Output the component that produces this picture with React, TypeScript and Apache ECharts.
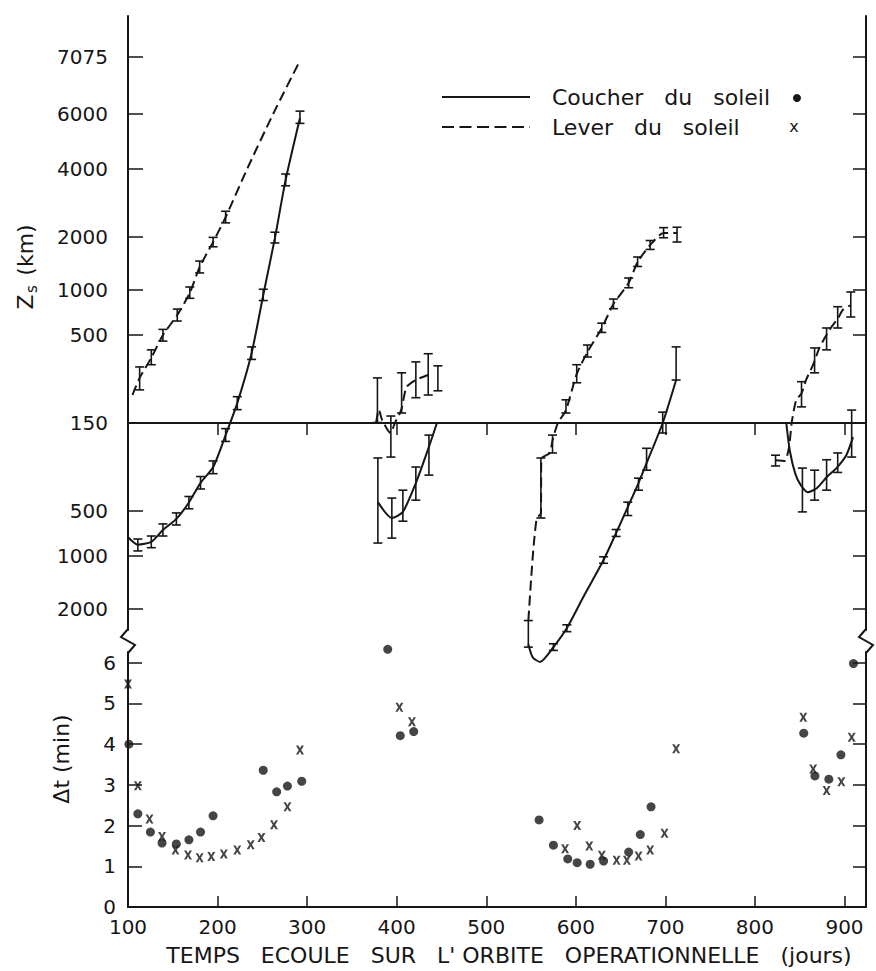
import React, { useEffect, useRef } from "react";
import * as echarts from "echarts";

// ---- axis definitions ----
const xLabelDays = [100, 200, 300, 400, 500, 600, 700, 800, 900];
const xTickDays = [200, 300, 400, 500, 600, 700, 800, 900];
// Zs tick labels; negative sign = mirrored (lower) half of the Zs scale
const zTickLabels = [7075, 6000, 4000, 2000, 1000, 500, 150, -500, -1000, -2000];
const dtLabelValues = [0, 1, 2, 3, 4, 5, 6];
const dtTickValues = [1, 2, 3, 4, 5, 6];

// non-uniform Zs scale of the figure (knot value -> relative position)
const Z_KNOTS = [150, 500, 1000, 2000, 4000, 6000, 7075];
const U_KNOTS = [0, 88, 133, 186, 254, 309, 366];

// ---- data: [day, Zs km] (negative = lower half) ----
const coucherZs1 = [[100, -750], [111, -840], [126, -805], [139, -670], [154, -565], [168, -445], [181, -340], [195, -275], [209, -177], [222, 197], [238, 390], [251, 925], [264, 1970], [276, 3580], [292, 5830]];
const coucherErr1 = [[111, -925, -770], [126, -880, -735], [139, -735, -610], [154, -620, -515], [168, -485, -410], [181, -370, -312], [195, -300, -252], [209, -193, -162], [222, 180, 215], [238, 358, 425], [251, 850, 1010], [264, 1850, 2100], [276, 3370, 3800], [292, 5600, 6050]];
const leverZs1 = [[105, 220], [113, 278], [126, 366], [139, 500], [155, 680], [169, 955], [180, 1350], [195, 1870], [209, 2450], [233, 4000], [262, 6000], [292, 7000]];
const leverErr1 = [[113, 236, 323], [126, 333, 408], [139, 460, 545], [155, 620, 745], [169, 880, 1040], [180, 1250, 1460], [195, 1760, 1990], [209, 2310, 2600]];

const leverZs2 = [[377, 150], [380, 180], [384, 155], [393, -172], [398, 150], [405, 179], [411, 245], [421, 270], [435, 289]];
const leverErr2 = [[378.5, 151, 278], [393.5, 165, -239], [405.5, 172, 298], [421.4, 212, 346], [435.2, 220, 387], [446, 233, 328]];
const coucherZs2 = [[379, -443], [394.6, -557], [406.9, -507], [421.4, -341], [436, -208], [444.9, 150]];
const coucherErr2 = [[379, -242, -819], [394.6, -419, -759], [406.9, -376, -585], [421.4, -274, -431], [436, -177, -306]];

const leverZs3 = [[547, -2250], [550, -1370], [553, -844], [556.5, -557], [561, -520], [561.5, -245], [571, -226], [574, -190], [580, 150], [589, 179], [601, 293], [613, 396], [629, 557], [642, 806], [659, 1096], [669, 1442], [683, 1801], [698, 2083], [713, 2083]];
const leverErr3 = [[547, -2250, -2950], [561, -557, -242], [574, -177, -226], [589, 172, 206], [601, 260, 333], [613, 370, 436], [629, 520, 600], [642, 750, 870], [659, 1030, 1170], [669, 1360, 1540], [683, 1700, 1910], [698, 1980, 2200], [713, 1873, 2210]];
const coucherZs3 = [[547, -2870], [552, -3280], [560, -3430], [575, -2950], [590, -2430], [610, -1650], [631, -1054], [645, -702], [658, -474], [670, -341], [679, -260], [697, 150], [712, 270]];
const coucherErr3 = [[575, -2850, -3050], [590, -2350, -2520], [631, -1010, -1100], [645, -665, -740], [658, -443, -536], [670, -319, -376], [679, -212, -286], [697, 174, -172], [712, 270, 425]];

const leverZs4 = [[823, -250], [833, -252], [838, -210], [841, 150], [846, 205], [852, 225], [857, 270], [865, 333], [872, 419], [883, 539], [893, 650], [898, 735], [907, 793]];
const leverErr4 = [[823, -233, -270], [852, 187, 264], [866.6, 298, 419], [880, 408, 557], [892.4, 557, 773], [907, 660, 970]];
const coucherZs4 = [[835, 150], [839, -220], [845, -300], [851, -350], [859, -387], [869, -366], [880, -315], [891, -278], [902, -233], [909.5, -182]];
const coucherErr4 = [[853, -278, -507], [866.6, -286, -431], [880, -248, -376], [892.4, -226, -295], [908, 179, -239]];

// ---- data: Δt (min) ----
const coucherDt = [[101, 4.0], [111, 2.29], [125, 1.84], [138, 1.57], [154, 1.55], [168, 1.65], [181, 1.84], [195, 2.24], [251, 3.36], [266, 2.83], [278, 2.97], [294, 3.09], [390, 6.33], [404, 4.21], [419, 4.31], [559, 2.14], [575, 1.52], [591, 1.18], [601.5, 1.09], [616, 1.05], [631, 1.13], [659, 1.35], [672, 1.78], [684, 2.46], [854.5, 4.27], [867, 3.22], [882.5, 3.14], [896, 3.74], [910, 5.98]];
const leverDt = [[100, 5.48], [111, 2.98], [124, 2.16], [138, 1.73], [153, 1.4], [167, 1.28], [180, 1.21], [193, 1.24], [207, 1.3], [222, 1.4], [237, 1.53], [249, 1.71], [263, 2.02], [278, 2.46], [292, 3.86], [403, 4.91], [417, 4.55], [588, 1.43], [601.5, 2.0], [615, 1.5], [629, 1.27], [645.5, 1.15], [657, 1.15], [670, 1.25], [683, 1.4], [699, 1.81], [712, 3.89], [854, 4.66], [865, 3.39], [880, 2.86], [896.5, 3.08], [908, 4.17]];

const INK = "#161616";
const FONT = "DejaVu Sans";

function zToU(z: number): number {
  const s = z < 0 ? -1 : 1;
  const a = Math.max(Math.abs(z), 150);
  let i = 0;
  while (i < Z_KNOTS.length - 2 && a > Z_KNOTS[i + 1]) i++;
  const l0 = Math.log10(Z_KNOTS[i]);
  const l1 = Math.log10(Z_KNOTS[i + 1]);
  return s * (U_KNOTS[i] + ((Math.log10(a) - l0) / (l1 - l0)) * (U_KNOTS[i + 1] - U_KNOTS[i]));
}

const zTickU = zTickLabels.map(zToU);

function zLabel(v: number): string {
  let best = 0;
  for (let i = 1; i < zTickU.length; i++) {
    if (Math.abs(zTickU[i] - v) < Math.abs(zTickU[best] - v)) best = i;
  }
  return String(Math.abs(zTickLabels[best]));
}

const toLine = (arr: number[][]) => arr.map((p) => [p[0], zToU(p[1])]);
const toErr = (arr: number[][]) => arr.map((p) => [p[0], zToU(p[1]), zToU(p[2])]);

function lineSeries(arr: number[][], dashed: boolean, extra: any = {}) {
  return {
    type: "line",
    xAxisIndex: 0,
    yAxisIndex: 0,
    data: toLine(arr),
    symbol: "none",
    smooth: 0.22,
    clip: false,
    silent: true,
    lineStyle: { color: INK, width: 2, type: dashed ? [10, 5] : "solid" },
    ...extra,
  };
}

function errSeries(arr: number[][]) {
  return {
    type: "custom",
    xAxisIndex: 0,
    yAxisIndex: 0,
    clip: false,
    silent: true,
    data: toErr(arr),
    encode: { x: 0, y: [1, 2] },
    renderItem: (params: any, api: any) => {
      const p1 = api.coord([api.value(0), api.value(1)]);
      const p2 = api.coord([api.value(0), api.value(2)]);
      const w = 4.5;
      const st = { stroke: INK, lineWidth: 1.6 };
      return {
        type: "group",
        children: [
          { type: "line", shape: { x1: p1[0], y1: p1[1], x2: p2[0], y2: p2[1] }, style: st },
          { type: "line", shape: { x1: p1[0] - w, y1: p1[1], x2: p1[0] + w, y2: p1[1] }, style: st },
          { type: "line", shape: { x1: p2[0] - w, y1: p2[1], x2: p2[0] + w, y2: p2[1] }, style: st },
        ],
      };
    },
  };
}

const X_PATH = "path://M0,0L3,0L5,3.2L7,0L10,0L6.6,5L10,10L7,10L5,6.8L3,10L0,10L3.4,5Z";

export default function App() {
  const ref = useRef<HTMLDivElement>(null);
  useEffect(() => {
    document.body.style.margin = "0";
    const chart = echarts.init(ref.current as HTMLDivElement, null, { renderer: "svg" });
    const axLine = { show: true, lineStyle: { color: INK, width: 2 } };
    const lab = { color: INK, fontSize: 20, fontFamily: FONT };
    const option: any = {
      animation: false,
      backgroundColor: "#ffffff",
      grid: [
        { left: 128, top: 16, width: 738, height: 614 },
        { left: 128, top: 652, width: 738, height: 255 },
      ],
      xAxis: [
        {
          gridIndex: 0, type: "value", min: 100, max: 924, position: "top",
          axisLine: axLine,
          axisTick: { show: true, inside: true, length: 12, customValues: xTickDays, lineStyle: { color: INK, width: 1.5 } },
          axisLabel: { show: false },
          splitLine: { show: false },
        },
        {
          gridIndex: 1, type: "value", min: 100, max: 924, position: "bottom",
          axisLine: axLine,
          axisTick: { show: true, inside: true, length: 11, customValues: xTickDays, lineStyle: { color: INK, width: 1.5 } },
          axisLabel: { show: true, customValues: xLabelDays, margin: 10, ...lab },
          splitLine: { show: false },
        },
      ],
      yAxis: [
        {
          gridIndex: 0, type: "value", min: -207, max: 407, position: "left",
          axisLine: axLine,
          axisTick: { show: true, inside: true, length: 15, customValues: zTickU, lineStyle: { color: INK, width: 1.5 } },
          axisLabel: { show: true, customValues: zTickU, formatter: zLabel, margin: 20, ...lab },
          splitLine: { show: false },
        },
        {
          gridIndex: 0, type: "value", min: -207, max: 407, position: "right",
          axisLine: axLine,
          axisTick: { show: true, inside: true, length: 13, customValues: zTickU, lineStyle: { color: INK, width: 1.5 } },
          axisLabel: { show: false },
          splitLine: { show: false },
        },
        {
          gridIndex: 1, type: "value", min: 0, max: 6.265, position: "left",
          axisLine: axLine,
          axisTick: { show: true, inside: true, length: 14, customValues: dtTickValues, lineStyle: { color: INK, width: 1.5 } },
          axisLabel: { show: true, customValues: dtLabelValues, margin: 12, ...lab },
          splitLine: { show: false },
        },
        {
          gridIndex: 1, type: "value", min: 0, max: 6.265, position: "right",
          axisLine: axLine,
          axisTick: { show: true, inside: true, length: 13, customValues: dtTickValues, lineStyle: { color: INK, width: 1.5 } },
          axisLabel: { show: false },
          splitLine: { show: false },
        },
      ],
      series: [
        lineSeries(coucherZs1, false, {
          markLine: {
            silent: true, symbol: ["none", "none"], label: { show: false },
            lineStyle: { color: INK, width: 1.5, type: "solid" },
            data: [{ yAxis: 0 }],
          },
        }),
        lineSeries(coucherZs2, false),
        lineSeries(coucherZs3, false),
        lineSeries(coucherZs4, false),
        lineSeries(leverZs1, true),
        lineSeries(leverZs2, true),
        lineSeries(leverZs3, true),
        lineSeries(leverZs4, true),
        errSeries([...coucherErr1, ...coucherErr2, ...coucherErr3, ...coucherErr4]),
        errSeries([...leverErr1, ...leverErr2, ...leverErr3, ...leverErr4]),
        {
          type: "scatter", xAxisIndex: 1, yAxisIndex: 2, data: coucherDt, clip: false, silent: true,
          symbol: "circle", symbolSize: 9, itemStyle: { color: INK },
        },
        {
          type: "scatter", xAxisIndex: 1, yAxisIndex: 2, data: leverDt, clip: false, silent: true,
          symbol: X_PATH, symbolSize: [8, 9], itemStyle: { color: INK },
        },
      ],
      graphic: [
        // axis breaks
        { type: "polyline", silent: true, shape: { points: [[128, 629], [121, 637], [135, 645], [128, 653]] }, style: { stroke: INK, lineWidth: 2, fill: null } },
        { type: "polyline", silent: true, shape: { points: [[866, 629], [859, 637], [873, 645], [866, 653]] }, style: { stroke: INK, lineWidth: 2, fill: null } },
        // legend
        { type: "line", silent: true, shape: { x1: 442, y1: 97, x2: 530, y2: 97 }, style: { stroke: INK, lineWidth: 2 } },
        { type: "line", silent: true, shape: { x1: 442, y1: 127, x2: 530, y2: 127 }, style: { stroke: INK, lineWidth: 2, lineDash: [12, 5.5] } },
        { type: "text", silent: true, x: 552, y: 97, style: { text: "Coucher   du   soleil", fontSize: 22, fontFamily: FONT, fill: INK, align: "left", verticalAlign: "middle" } },
        { type: "circle", silent: true, shape: { cx: 797, cy: 98, r: 4 }, style: { fill: INK } },
        { type: "text", silent: true, x: 552, y: 127, style: { text: "Lever   du   soleil", fontSize: 22, fontFamily: FONT, fill: INK, align: "left", verticalAlign: "middle" } },
        { type: "text", silent: true, x: 794, y: 126, style: { text: "x", fontSize: 16, fontFamily: FONT, fill: INK, align: "center", verticalAlign: "middle" } },
        // axis titles
        { type: "text", silent: true, x: 509, y: 955, style: { text: "TEMPS   ECOULE   SUR   L' ORBITE   OPERATIONNELLE   (jours)", fontSize: 22, fontFamily: FONT, fill: INK, align: "center", verticalAlign: "middle" } },
        { type: "text", silent: true, x: 25, y: 302, rotation: Math.PI / 2, style: { text: "Z", fontSize: 22, fontFamily: FONT, fill: INK, align: "center", verticalAlign: "middle" } },
        { type: "text", silent: true, x: 32, y: 289, rotation: Math.PI / 2, style: { text: "s", fontSize: 15, fontFamily: FONT, fill: INK, align: "center", verticalAlign: "middle" } },
        { type: "text", silent: true, x: 25, y: 250, rotation: Math.PI / 2, style: { text: "(km)", fontSize: 22, fontFamily: FONT, fill: INK, align: "center", verticalAlign: "middle" } },
        { type: "text", silent: true, x: 61, y: 759, rotation: Math.PI / 2, style: { text: "Δt (min)", fontSize: 22, fontFamily: FONT, fill: INK, align: "center", verticalAlign: "middle" } },
      ],
    };
    chart.setOption(option);
    return () => chart.dispose();
  }, []);
  return <div ref={ref} style={{ width: 876, height: 971 }} />;
}
